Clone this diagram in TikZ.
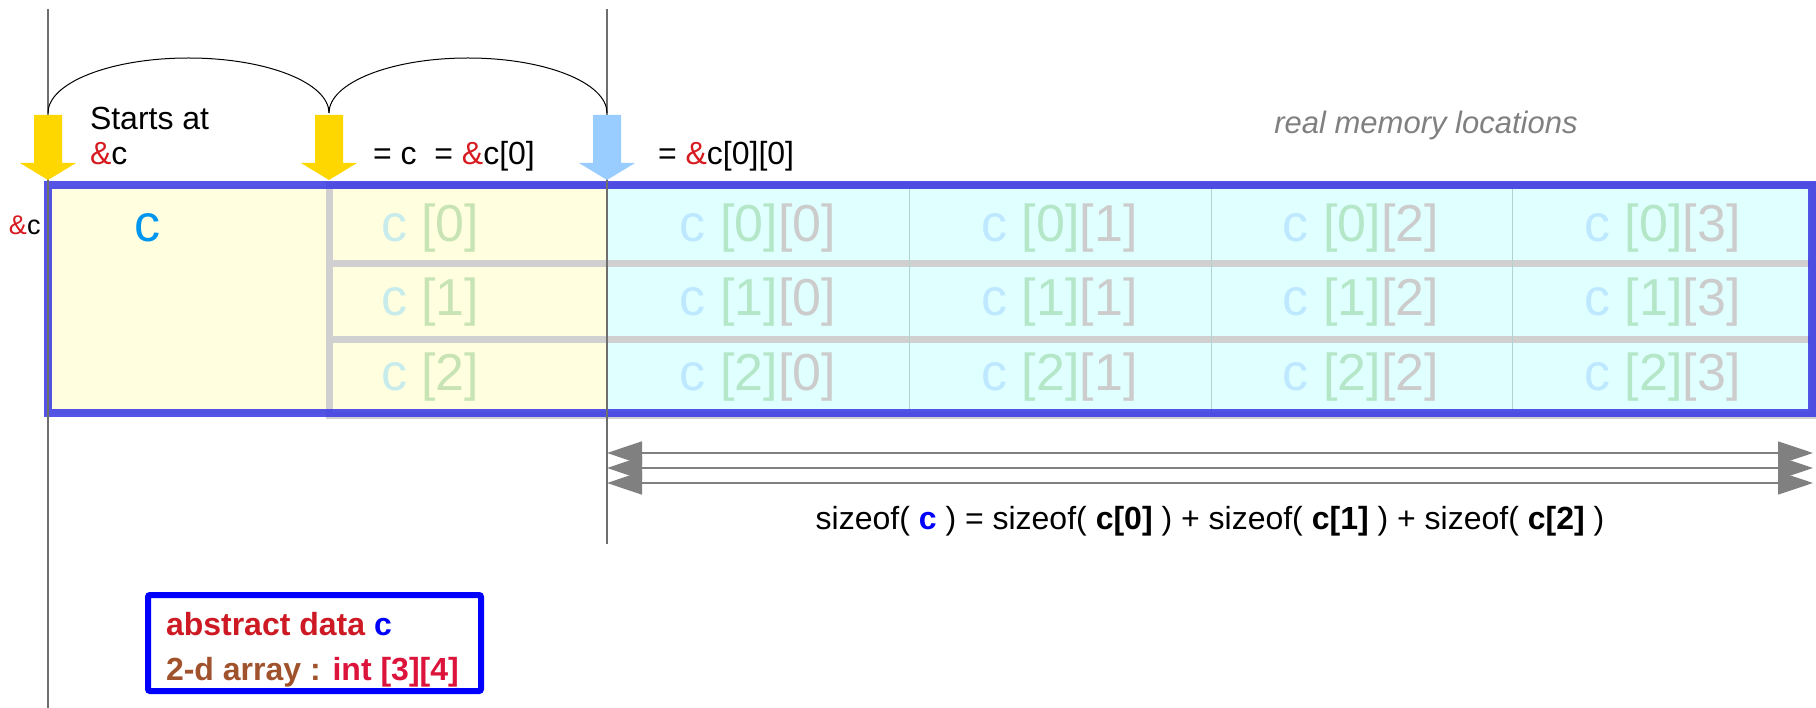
\documentclass[tikz,border=0pt]{standalone}
\usepackage{fontspec}
\setmainfont{Liberation Sans}
\usetikzlibrary{arrows.meta}
\definecolor{ampred}{RGB}{215,25,32}
\definecolor{frameblue}{RGB}{60,60,228}
\definecolor{yfill}{RGB}{255,255,224}
\definecolor{cfill}{RGB}{224,255,255}
\definecolor{rowgray}{RGB}{208,208,208}
\definecolor{coldiv}{RGB}{178,210,210}
\definecolor{ctl}{RGB}{190,232,255}
\definecolor{ig}{RGB}{180,230,200}
\definecolor{jg}{RGB}{204,204,204}
\definecolor{mc}{RGB}{200,236,236}
\definecolor{mg}{RGB}{200,228,180}
\definecolor{bigc}{RGB}{0,150,240}
\definecolor{yarrow}{RGB}{255,215,0}
\definecolor{barrow}{RGB}{153,204,255}
\definecolor{brownc}{RGB}{160,82,45}
\definecolor{crimsonc}{RGB}{220,20,60}
\definecolor{absred}{RGB}{205,25,35}
\definecolor{guide}{RGB}{110,110,110}
\newcommand\myfs[1]{\fontsize{#1}{#1}\selectfont}
\newcommand\cij[2]{\textcolor{ctl}{c} \textcolor{ig}{[#1]}\textcolor{jg}{[#2]}}
\newcommand\ci[1]{\textcolor{mc}{c} \textcolor{mg}{[#1]}}
\newcommand\amp{\textcolor{ampred}{\&}}
\begin{document}
\begin{tikzpicture}[x=1pt,y=-1pt,
  every node/.style={inner sep=0pt, outer sep=0pt},
  lbl/.style={font=\myfs{32}, anchor=base west},
  cell/.style={font=\myfs{52}},
  guideline/.style={draw=guide, line width=1.2pt},
  sizearrow/.style={draw=gray, line width=1.5pt, {Triangle[length=35pt,width=23pt]}-{Triangle[length=35pt,width=23pt]}},
  arcline/.style={draw=black, line width=1pt}]
\useasboundingbox (0,0) rectangle (1816,708);

% fills
\fill[yfill] (48,186) rectangle (607,414);
\fill[cfill] (607,186) rectangle (1813,414);

% row rectangles (gray)
\foreach \ya/\yb in {186/264, 264/340, 340/416}
  \draw[rowgray, line width=7pt] (329,\ya) rectangle (1813,\yb);

% thin column dividers
\foreach \xx in {909,1211,1512}
  \draw[coldiv, line width=1pt] (\xx,188) -- (\xx,412);

% blue frame
\draw[frameblue, line width=8pt, opacity=0.88] (48,185) rectangle (1812,413);

% guide lines
\coordinate (g1t) at (48,9);
\coordinate (g1b) at (48,708);
\coordinate (g2t) at (607,9);
\coordinate (g2b) at (607,544);
\draw[guideline] (g1t) -- (g1b);
\draw[guideline] (g2t) -- (g2b);

% arcs
\coordinate (a0) at (48,113);
\coordinate (a1) at (329,113);
\coordinate (a2) at (607,113);
\draw[arcline] (a0) arc[start angle=180, end angle=360, x radius=140.5, y radius=55];
\draw[arcline] (a1) arc[start angle=180, end angle=360, x radius=139, y radius=55];

% block arrows
\foreach \cx/\col in {48/yarrow, 329/yarrow, 607/barrow}
  \fill[\col] ({\cx-14},115) -- ({\cx+14},115) -- ({\cx+14},163) -- ({\cx+28},163)
     -- (\cx,180) -- ({\cx-28},163) -- ({\cx-14},163) -- cycle;

% top labels
\node[lbl] (starts) at (90,130) {Starts at};
\node[lbl] (startsc) at (90,165) {\amp c};
\node[lbl] (eqc) at (373,165) {= c\ \ = \amp c[0]};
\node[lbl] (eqc00) at (658,165) {= \amp c[0][0]};
\node[font=\myfs{31}\itshape, text=gray, anchor=base] (real) at (1426,134) {real memory locations};

% left label and big c
\node[font=\myfs{27}, anchor=base west] (addrc) at (9,235) {\amp c};
\node[font=\myfs{52}, text=bigc, anchor=base] (bigc) at (147,242) {c};

% middle column
\node[cell, anchor=west] (m0) at (381,228) {\ci{0}};
\node[cell, anchor=west] (m1) at (381,302) {\ci{1}};
\node[cell, anchor=west] (m2) at (381,377) {\ci{2}};

% memory cells
\foreach \i/\yy in {0/228, 1/302, 2/377}
  \foreach \j/\xx in {0/758, 1/1059.5, 2/1361, 3/1662.5}
    \node[cell] (e\i\j) at (\xx,\yy) {\cij{\i}{\j}};

% size arrows
\foreach \k/\yy in {1/453, 2/468, 3/483} {
  \coordinate (sl\k) at (607,\yy);
  \coordinate (sr\k) at (1813,\yy);
  \draw[sizearrow] (sl\k) -- (sr\k);
}
\node[font=\myfs{32}, anchor=base] (sizeof) at (1210,529)
  {sizeof( \textbf{\textcolor{blue}{c}} ) = sizeof( \textbf{c[0]} ) + sizeof( \textbf{c[1]} ) + sizeof( \textbf{c[2]} )};

% legend box
\draw[blue, line width=6pt, rounded corners=2pt] (148,595) rectangle (481,691);
\node[font=\myfs{32}\bfseries, anchor=base west] (abs) at (166,635)
  {\textcolor{absred}{abstract data} \textcolor{blue}{c}};
\node[font=\myfs{32}\bfseries, anchor=base west] (arr) at (166,680)
  {\textcolor{brownc}{2-d array :} \textcolor{crimsonc}{int [3][4]}};
\end{tikzpicture}
\end{document}
